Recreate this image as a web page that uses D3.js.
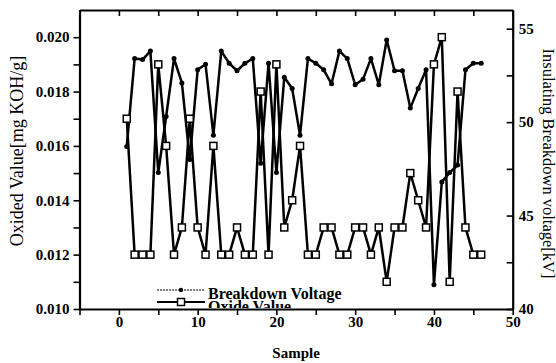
<!DOCTYPE html>
<html>
<head>
<meta charset="utf-8">
<script src="https://cdn.jsdelivr.net/npm/d3@7"></script>
<style>
  body { margin: 0; background: #fff; }
  svg { display: block; font-family: "Liberation Serif", "Times New Roman", serif; }
</style>
</head>
<body>
<div id="chart"></div>
<script>
const samples = d3.range(1, 47);

// oxide value, mg KOH/g (left axis)
const oxideValue = [
  0.017, 0.012, 0.012, 0.012, 0.019, 0.016, 0.012, 0.013, 0.017, 0.013,
  0.012, 0.016, 0.012, 0.012, 0.013, 0.012, 0.012, 0.018, 0.012, 0.019,
  0.013, 0.014, 0.016, 0.012, 0.012, 0.013, 0.013, 0.012, 0.012, 0.013,
  0.013, 0.012, 0.013, 0.011, 0.013, 0.013, 0.015, 0.014, 0.013, 0.019,
  0.020, 0.011, 0.018, 0.013, 0.012, 0.012
];

// insulating breakdown voltage, kV (right axis)
const breakdownVoltage = [
  48.7, 53.4, 53.35, 53.8, 47.3, 50.3, 53.4, 52.1, 48.0, 52.8,
  53.1, 49.3, 53.8, 53.15, 52.75, 53.15, 53.4, 47.8, 53.15, 47.3,
  52.4, 51.8, 49.3, 53.4, 53.15, 52.8, 52.05, 53.8, 53.4, 52.0,
  52.3, 53.4, 52.0, 54.4, 52.75, 52.75, 50.75, 51.8, 52.8, 41.3,
  46.8, 47.3, 47.7, 52.8, 53.15, 53.15
];

const xTicks = d3.range(-5, 51, 5);
const leftTicks = d3.range(10, 21).map(d => d / 1000);
const rightTicks = d3.range(40, 56, 2.5);
const seriesNames = ["Breakdown Voltage", "Oxide Value"];

const width = 556, height = 363;
const plot = { left: 79.5, right: 512.7, top: 10, bottom: 309 };

const svg = d3.select('#chart')
  .append('svg')
  .attr('width', width)
  .attr('height', height);

const x = d3.scaleLinear().domain([-5, 50]).range([plot.left, plot.right]);
const yLeft = d3.scaleLinear().domain([0.010, 0.021]).range([plot.bottom, plot.top]);
const yRight = d3.scaleLinear().domain([40, 56]).range([plot.bottom, plot.top]);

function styleAxis(g) {
  g.select('.domain').attr('stroke-width', 2.2);
  g.selectAll('.tick line').attr('stroke-width', 1.6);
  g.selectAll('text')
    .attr('fill', '#000')
    .attr('font-family', '"Liberation Serif", "Times New Roman", serif')
    .attr('font-size', 15)
    .attr('font-weight', 'bold');
}

svg.append('g')
  .attr('transform', `translate(0,${plot.bottom})`)
  .call(d3.axisBottom(x).tickValues(xTicks)
    .tickFormat(d => (d >= 0 && d % 10 === 0) ? d : '')
    .tickSize(6).tickSizeOuter(0).tickPadding(1))
  .call(styleAxis);

svg.append('g')
  .attr('transform', `translate(0,${plot.top})`)
  .call(d3.axisTop(x).tickValues(xTicks).tickFormat('')
    .tickSize(-6).tickSizeOuter(0))
  .call(styleAxis);

svg.append('g')
  .attr('transform', `translate(${plot.left},0)`)
  .call(d3.axisLeft(yLeft).tickValues(leftTicks)
    .tickFormat(d => Math.round(d * 1000) % 2 === 0 ? d3.format('.3f')(d) : '')
    .tickSize(6).tickSizeOuter(0).tickPadding(4))
  .call(styleAxis);

svg.append('g')
  .attr('transform', `translate(${plot.right},0)`)
  .call(d3.axisRight(yRight).tickValues(rightTicks)
    .tickFormat(d => d % 5 === 0 ? d : '')
    .tickSize(-6).tickSizeOuter(0).tickPadding(6))
  .call(styleAxis);

// series
const breakdownLine = d3.line()
  .x((d, i) => x(samples[i]))
  .y(d => yRight(d));

const oxideLine = d3.line()
  .x((d, i) => x(samples[i]))
  .y(d => yLeft(d));

svg.append('path')
  .datum(breakdownVoltage)
  .attr('fill', 'none')
  .attr('stroke', '#000')
  .attr('stroke-width', 2.5)
  .attr('stroke-linejoin', 'round')
  .attr('d', breakdownLine);

svg.append('path')
  .datum(oxideValue)
  .attr('fill', 'none')
  .attr('stroke', '#000')
  .attr('stroke-width', 2.5)
  .attr('stroke-linejoin', 'round')
  .attr('d', oxideLine);

svg.append('g')
  .selectAll('circle')
  .data(breakdownVoltage)
  .join('circle')
  .attr('cx', (d, i) => x(samples[i]))
  .attr('cy', d => yRight(d))
  .attr('r', 2.5)
  .attr('fill', '#000');

svg.append('g')
  .selectAll('rect')
  .data(oxideValue)
  .join('rect')
  .attr('x', (d, i) => x(samples[i]) - 3.5)
  .attr('y', d => yLeft(d) - 3.5)
  .attr('width', 7)
  .attr('height', 7)
  .attr('fill', '#fff')
  .attr('stroke', '#000')
  .attr('stroke-width', 1.5);

// legend, clipped at the bottom axis like the original
svg.append('clipPath')
  .attr('id', 'plotClip')
  .append('rect')
  .attr('x', plot.left).attr('y', plot.top)
  .attr('width', plot.right - plot.left)
  .attr('height', plot.bottom - plot.top - 1);

const legend = svg.append('g').attr('clip-path', 'url(#plotClip)');
const legendRows = [290, 302];

legend.selectAll('line')
  .data(seriesNames)
  .join('line')
  .attr('x1', 157).attr('x2', 205)
  .attr('y1', (d, i) => legendRows[i])
  .attr('y2', (d, i) => legendRows[i])
  .attr('stroke', '#000')
  .attr('stroke-width', (d, i) => i === 0 ? 1.2 : 2.2)
  .attr('stroke-dasharray', (d, i) => i === 0 ? '2,1' : null);

legend.append('circle')
  .attr('cx', 181).attr('cy', legendRows[0]).attr('r', 2.2).attr('fill', '#000');

legend.append('rect')
  .attr('x', 177.5).attr('y', legendRows[1] - 3.5)
  .attr('width', 7).attr('height', 7)
  .attr('fill', '#fff').attr('stroke', '#000').attr('stroke-width', 1.5);

legend.selectAll('text')
  .data(seriesNames)
  .join('text')
  .attr('x', 208)
  .attr('y', (d, i) => [298.5, 312][i])
  .attr('font-size', 16)
  .attr('font-weight', 'bold')
  .text(d => d);

// axis titles
svg.append('text')
  .attr('transform', `translate(17,151) rotate(-90)`)
  .attr('text-anchor', 'middle')
  .attr('dominant-baseline', 'central')
  .attr('font-size', 18)
  .text('Oxided Value[mg KOH/g]');

svg.append('text')
  .attr('transform', `translate(548,163.5) rotate(90)`)
  .attr('text-anchor', 'middle')
  .attr('dominant-baseline', 'central')
  .attr('font-size', 16.5)
  .text('Insulating Breakdown voltage[kV]');

svg.append('text')
  .attr('x', (plot.left + plot.right) / 2)
  .attr('y', 358)
  .attr('text-anchor', 'middle')
  .attr('font-size', 15)
  .attr('font-weight', 'bold')
  .text('Sample');
</script>
</body>
</html>
